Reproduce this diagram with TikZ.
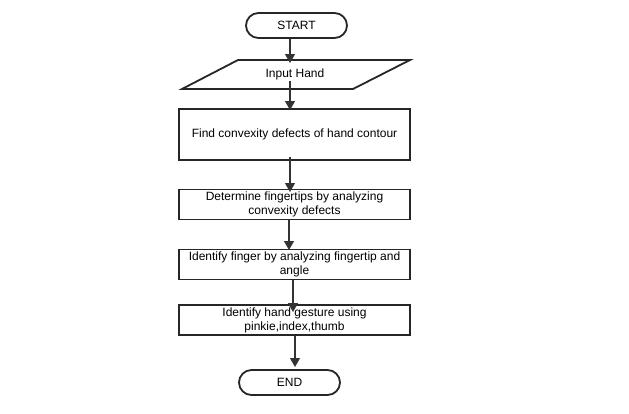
\documentclass[tikz,border=0pt]{standalone}
\usepackage{fontspec}
\setmainfont{Liberation Sans}
\usetikzlibrary{arrows.meta,shapes.misc}
\begin{document}
\begin{tikzpicture}[x=1pt,y=-1pt,
  term/.style={draw=black!85,line width=1.8pt,rounded rectangle,minimum width=101pt,minimum height=25pt,inner sep=0pt,font=\fontsize{12}{13}\selectfont},
  proc/.style={draw=black!85,line width=1.8pt,rectangle,minimum width=231pt,inner sep=0pt,align=center,font=\fontsize{12}{14}\selectfont},
  arr/.style={draw=black!80,line width=1.3pt,-{Triangle[width=10pt,length=9pt]}}]
\useasboundingbox[fill=white] (0,0) rectangle (629,413);
\node[term] (start) at (296.5,25.5) {START};
\draw[draw=black!85,line width=1.8pt,line join=miter] (238,60)--(410,60)--(353,89)--(182,89)--cycle;
\node[font=\fontsize{12}{13}\selectfont] (inp) at (295,74.5) {Input Hand};
\node[proc,minimum height=51pt] (b1) at (294.5,134.5) {Find convexity defects of hand contour};
\node[proc,minimum height=30pt] (b2) at (294.5,204.5) {Determine fingertips by analyzing\\convexity defects};
\node[proc,minimum height=30pt] (b3) at (294.5,264.5) {Identify finger by analyzing fingertip and\\angle};
\node[proc,minimum height=30pt] (b4) at (294.5,320) {Identify hand gesture using\\pinkie,index,thumb};
\node[term] (end) at (289.5,382.5) {END};
\coordinate (t1) at (290,63);
\coordinate (s2) at (290,81);
\coordinate (t2) at (290,110);
\coordinate (s3) at (290,157);
\coordinate (t3) at (290,192);
\coordinate (t4) at (289,250);
\coordinate (t5) at (293,312);
\coordinate (t6) at (295,367);
\draw[arr] (start.south -| t1) -- (t1);
\draw[arr] (s2) -- (t2);
\draw[arr] (s3) -- (t3);
\draw[arr] (b2.south -| t4) -- (t4);
\draw[arr] (b3.south -| t5) -- (t5);
\draw[arr] (b4.south -| t6) -- (t6);
\end{tikzpicture}
\end{document}
